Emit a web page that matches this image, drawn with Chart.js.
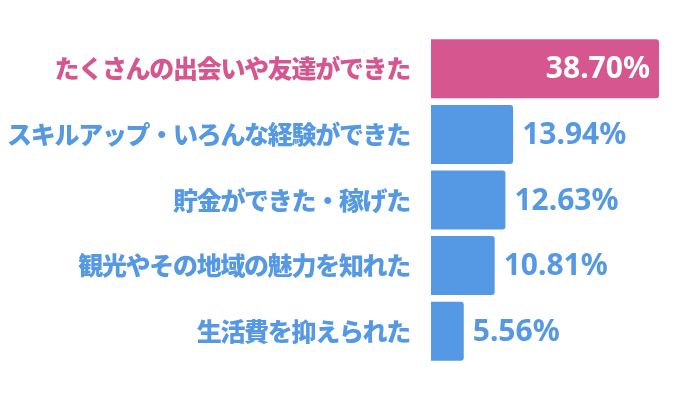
<!DOCTYPE html>
<html lang="ja">
<head>
<meta charset="utf-8">
<script src="https://cdn.jsdelivr.net/npm/chart.js@4"></script>
<style>
  html, body { margin: 0; padding: 0; background: #fff; }
  #wrap { width: 700px; height: 400px; }
</style>
</head>
<body>
<div id="wrap"><canvas id="chart"></canvas></div>
<script>
// data
const categories = [
  "たくさんの出会いや友達ができた",
  "スキルアップ・いろんな経験ができた",
  "貯金ができた・稼げた",
  "観光やその地域の魅力を知れた",
  "生活費を抑えられた"
];
const percents = [38.70, 13.94, 12.63, 10.81, 5.56];

const PINK = "#d6568f";
const BLUE = "#5598e4";
const colorFor = i => (i === 0 ? PINK : BLUE);

// tighter kana spacing for the category labels
const tightText = {
  id: "tightText",
  beforeDraw(chart) { chart.ctx.letterSpacing = "-1.3px"; },
  beforeDatasetsDraw(chart) { chart.ctx.letterSpacing = "0px"; }
};

// draws "xx.xx%" inside the first bar, after the others
const valueLabels = {
  id: "valueLabels",
  afterDatasetsDraw(chart) {
    const ctx = chart.ctx;
    const meta = chart.getDatasetMeta(0);
    ctx.save();
    ctx.letterSpacing = "0px";
    ctx.font = "bold 30px 'Noto Sans', sans-serif";
    ctx.textBaseline = "middle";
    meta.data.forEach((bar, i) => {
      const txt = percents[i].toFixed(2) + "%";
      if (i === 0) {
        ctx.fillStyle = "#fff";
        ctx.textAlign = "right";
        ctx.fillText(txt, bar.x - 9, bar.y + 1);
      } else {
        ctx.fillStyle = BLUE;
        ctx.textAlign = "left";
        ctx.fillText(txt, bar.x + 9, bar.y + 1);
      }
    });
    ctx.restore();
  }
};

new Chart(document.getElementById("chart"), {
  type: "bar",
  data: {
    labels: categories,
    datasets: [{
      data: percents,
      backgroundColor: percents.map((v, i) => colorFor(i)),
      borderRadius: 3,
      categoryPercentage: 0.9,
      barPercentage: 1
    }]
  },
  options: {
    indexAxis: "y",
    responsive: true,
    maintainAspectRatio: false,
    animation: false,
    layout: { padding: { top: 33, bottom: 31, right: 41, left: 0 } },
    plugins: { legend: { display: false }, tooltip: { enabled: false } },
    scales: {
      x: {
        display: false,
        min: 0,
        max: 38.7
      },
      y: {
        grid: { display: false, drawTicks: false },
        border: { display: false },
        afterFit(scale) { scale.width = 431; },
        ticks: {
          padding: 21,
          color: ctx => colorFor(ctx.index),
          font: { family: "'Noto Sans CJK JP', sans-serif", size: 25, weight: "900" }
        }
      }
    }
  },
  plugins: [tightText, valueLabels]
});
</script>
</body>
</html>
